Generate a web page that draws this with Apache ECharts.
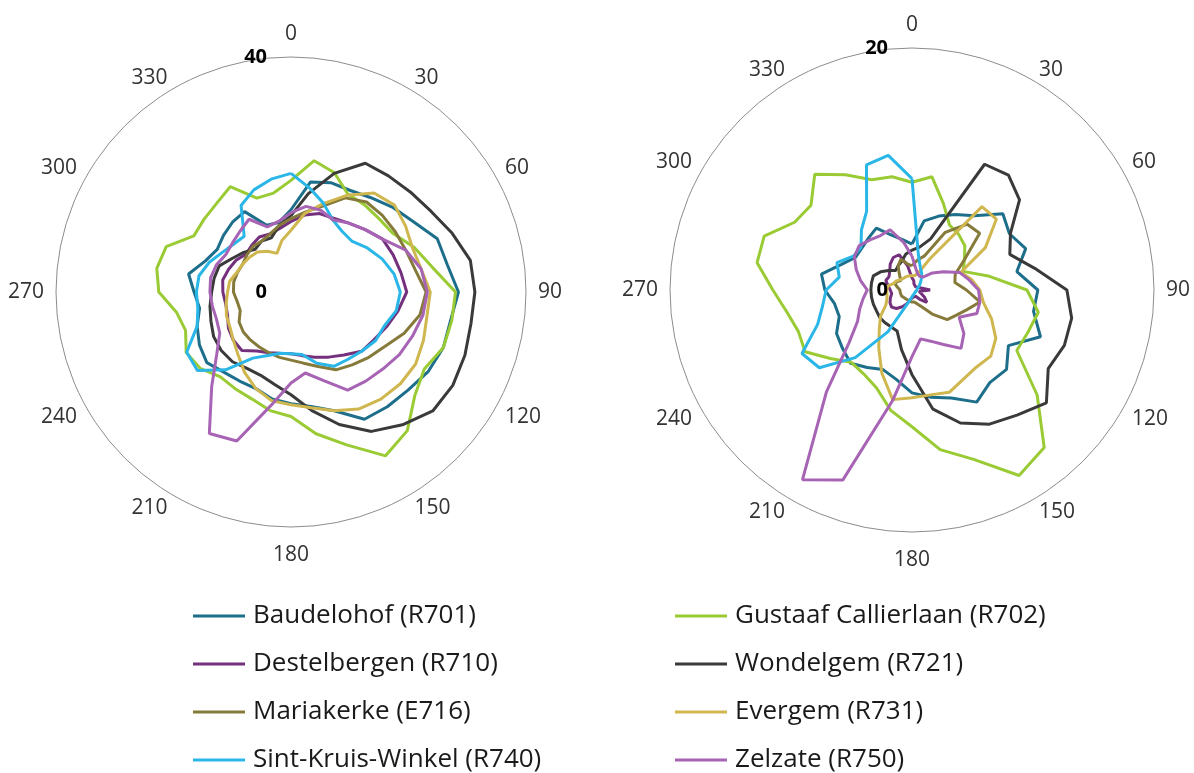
<!DOCTYPE html>
<html>
<head>
<meta charset="utf-8">
<style>
  html, body { margin: 0; padding: 0; background: #ffffff; }
  #chart { width: 1194px; height: 773px; }
</style>
<script src="https://cdn.jsdelivr.net/npm/echarts@6/dist/echarts.min.js"></script>
</head>
<body>
<div id="chart"></div>
<script>
// Wind directions (degrees, clockwise from north)
const angles = [0, 10, 20, 30, 40, 50, 60, 70, 80, 90, 100, 110, 120, 130, 140, 150, 160, 170,
                180, 190, 200, 210, 220, 230, 240, 250, 260, 270, 280, 290, 300, 310, 320, 330, 340, 350];

const angleTicks = [0, 30, 60, 90, 120, 150, 180, 210, 240, 270, 300, 330];

const stations = [
  'Baudelohof (R701)', 'Gustaaf Callierlaan (R702)',
  'Destelbergen (R710)', 'Wondelgem (R721)',
  'Mariakerke (E716)', 'Evergem (R731)',
  'Sint-Kruis-Winkel (R740)', 'Zelzate (R750)'
];
const stationColors = ['#1d6e8b', '#9acb34', '#74307c', '#3a3a3a', '#857a3a', '#cfb64e', '#2ab7e7', '#a763b4'];

const legendLeftCol = ['Baudelohof (R701)', 'Destelbergen (R710)', 'Mariakerke (E716)', 'Sint-Kruis-Winkel (R740)'];
const legendRightCol = ['Gustaaf Callierlaan (R702)', 'Wondelgem (R721)', 'Evergem (R731)', 'Zelzate (R750)'];

// Left rose, radial scale 0..40
const leftMax = 40;
const leftR701 = [14, 19, 19.8, 20, 21, 22.5, 24, 26.5, 27, 28.5, 27.6, 27.6, 27, 26, 25.5, 25, 21.5, 19.8, 19, 18.5, 17.5, 17.5, 17.8, 18.7, 18, 17, 15.8, 16.5, 17.7, 15.5, 14.5, 15, 15.5, 15.8, 12.1, 12];
const leftR702 = [19, 22.7, 21.6, 19.3, 19.4, 19.5, 20, 22.3, 24.4, 28, 27.8, 27.6, 26.2, 27.5, 30.8, 32.2, 27.7, 24.5, 21.2, 20.5, 19.4, 19, 18.8, 20.2, 20.6, 19.1, 19.8, 22.5, 23.2, 22.6, 19.1, 19.3, 19.7, 20.7, 17, 17.1];
const leftR710 = [12, 13.3, 14.2, 14.5, 15.3, 16.5, 18, 18.5, 19, 19.7, 18.5, 17.3, 16.3, 15.7, 14, 12.8, 11.8, 11, 10.5, 10.6, 11, 11.6, 13, 12.8, 12.3, 11.5, 11.3, 11.6, 11.8, 11.3, 10.8, 10, 10.4, 10.8, 10.5, 11];
const leftR721 = [13, 17, 21.5, 25.3, 25.8, 26.5, 27.5, 29.2, 31, 31.3, 31.1, 31.5, 31.8, 31.5, 29.5, 27.4, 24, 20.5, 17.5, 16, 15.1, 15, 15.5, 15.5, 15.2, 14.5, 14, 13.5, 13.3, 13, 11.5, 10.5, 9.5, 10, 9.8, 11.5];
const leftE716 = [12.5, 13.8, 15.5, 18.5, 20, 20.3, 20.5, 20.8, 21.5, 23, 22.3, 20.5, 18.5, 17.3, 16.2, 15.3, 13.5, 12.3, 11.6, 11.3, 11, 10.8, 10.7, 10.6, 10.2, 9.2, 9.3, 9.8, 9.9, 9.7, 9.5, 9.8, 10.1, 10, 10.5, 11.5];
const leftR731 = [10.5, 13.6, 16, 19, 22, 23, 22.5, 22, 22.5, 23.7, 23.5, 24, 24.5, 24.3, 23.8, 23, 21.5, 20, 19.2, 18.8, 17.5, 15.8, 14, 12.8, 12, 11.7, 11.2, 10.8, 10.6, 9.8, 9.5, 9.2, 8.9, 8, 7, 8.9];
const leftR740 = [20.2, 18, 16.1, 14.2, 13.5, 13.5, 15, 16.5, 17.8, 18.6, 18.2, 16.9, 16.6, 15.7, 15, 14.6, 12.9, 10.8, 10.5, 10.6, 11.5, 13, 17.3, 20.8, 20.5, 17, 16.1, 16.1, 15.9, 14.8, 13.5, 12.7, 12.4, 17, 18.5, 19.5];
const leftR750 = [13.5, 14.8, 14.8, 14.2, 15.3, 16.5, 18, 20.8, 22.5, 23.2, 22.8, 22, 21.3, 20.4, 19.8, 19.3, 16, 14, 15.5, 19.6, 27, 27.8, 21, 16.5, 14, 13.5, 13.6, 13.8, 13.9, 13.5, 12.8, 13, 13.5, 14.3, 11.8, 12.2];

// Right rose, radial scale 0..20
const rightMax = 20;
const rightR701 = [3.8, 5.8, 6.5, 7.2, 8, 9.8, 9.3, 10, 8.8, 10.4, 10.2, 11.3, 9.2, 10.2, 10, 10.7, 9.5, 9, 8.5, 7.5, 7, 7.4, 7.9, 7.5, 7.2, 6.4, 6.5, 7.2, 7.6, 6.2, 5.4, 5.4, 5.6, 5.9, 4.8, 4.2];
const rightR702 = [8.9, 9.5, 7.6, 6.2, 6, 5.7, 5, 4.5, 6.5, 9.5, 10.6, 10.2, 10, 13.5, 17, 17.7, 14.9, 13.4, 11.3, 10.1, 8.6, 8, 7.8, 8.8, 10.2, 10, 10.5, 11.5, 13, 13, 11.2, 10.9, 12.5, 11, 9.7, 9.5];
const rightR710 = [1, 0.8, 0.5, 0.4, 0.4, 0.4, 0.5, 0.6, 0.6, 1.5, 0.6, 0.6, 1.2, 1.6, 1, 0.6, 0.5, 0.6, 0.7, 0.8, 1.2, 1.6, 2, 2.2, 2.1, 1.9, 1.7, 1.8, 2, 2.3, 2.2, 2.4, 2.8, 3.1, 3.1, 2];
const rightR721 = [3.3, 3.6, 4.5, 12, 12.4, 11.6, 9.4, 8.6, 10.3, 12.8, 13.4, 13.4, 13, 14.5, 13.5, 12.8, 11.7, 10, 7, 5, 3.6, 3.5, 3.5, 3.5, 3.4, 3.4, 3.4, 3.4, 3.4, 3.4, 3, 2.5, 2.1, 2.3, 2.5, 3];
const rightE716 = [2, 2.5, 3, 5.5, 7.1, 7.3, 5, 3.8, 3.6, 4.5, 5.7, 4.8, 4.2, 3.8, 2.6, 1.6, 1.2, 1, 1, 0.9, 0.9, 0.9, 0.9, 0.9, 1, 1, 1, 1, 1.2, 1.5, 1.4, 1.2, 1.6, 2.3, 2.7, 2.2];
const rightR731 = [1.2, 1.2, 1.5, 3, 9, 9.1, 7, 4.3, 5, 5.6, 6, 7, 8, 8.5, 8.3, 8.5, 9, 8.8, 8.9, 9.2, 7.3, 5.5, 4.2, 3.4, 2.5, 2.2, 2.1, 2.1, 2, 1.6, 1.5, 1.3, 1.2, 1.2, 1.2, 1.2];
const rightR740 = [9.2, 3, 2, 1.6, 1.2, 0.9, 0.7, 0.5, 0.45, 0.4, 0.35, 0.33, 0.32, 0.32, 0.33, 0.35, 0.4, 0.45, 0.55, 0.8, 1.3, 4, 7.3, 10, 10.5, 8.3, 7.5, 7.1, 6.1, 6.6, 5.6, 5.5, 6.5, 7.5, 11, 11.3];
const rightR750 = [2.8, 1.8, 1.4, 1.3, 1.4, 2.2, 3, 4.2, 4.8, 5.5, 5.7, 5.7, 4.5, 5.6, 6.3, 5.2, 4.5, 4.1, 5.5, 9.3, 16.7, 18.1, 11, 6.8, 5.2, 4.6, 4.1, 3.7, 4.3, 4.9, 5.5, 5.7, 5.4, 5.2, 5.3, 4];

const leftSets = [leftR701, leftR702, leftR710, leftR721, leftE716, leftR731, leftR740, leftR750];
const rightSets = [rightR701, rightR702, rightR710, rightR721, rightE716, rightR731, rightR740, rightR750];

const FONT = '"Open Sans", "Liberation Sans", sans-serif';

// closed polygon in (radius, angle) pairs
function ring(values) {
  const pts = values.map((v, i) => [v, angles[i]]);
  pts.push([values[0], angles[0]]);
  return pts;
}

// direction labels: diagonal ones sit a little closer to the horizontal mid-line
function angleLabel(v) {
  if (angleTicks.indexOf(v) < 0) return '';
  if (v === 0) return '{n|0}';
  if (v === 180) return '{s|180}';
  if (v === 90 || v === 270) return '{m|' + v + '}';
  if (v < 90 || v > 270) return '{up|' + v + '}';
  return '{dn|' + v + '}';
}

function angleAxisFor(idx) {
  const base = { color: '#333333', fontFamily: FONT, fontSize: 21 };
  return {
    polarIndex: idx,
    type: 'value',
    min: 0,
    max: 360,
    interval: 30,
    startAngle: 90,
    clockwise: true,
    axisLine: { show: true, lineStyle: { color: '#8c8c8c', width: 1 } },
    axisTick: { show: false },
    splitLine: { show: false },
    axisLabel: {
      margin: 12,
      color: '#333333',
      fontFamily: FONT,
      fontSize: 21,
      formatter: angleLabel,
      rich: {
        n: Object.assign({ lineHeight: 22 }, base),
        s: Object.assign({ lineHeight: 32 }, base),
        m: Object.assign({ lineHeight: 24 }, base),
        up: Object.assign({ lineHeight: 1 }, base),
        dn: Object.assign({ lineHeight: 4 }, base)
      }
    }
  };
}

function radiusAxisFor(idx, max) {
  return {
    polarIndex: idx,
    type: 'value',
    min: 0,
    max: max,
    interval: max,
    axisLine: { show: false },
    axisTick: { show: false },
    splitLine: { show: false },
    axisLabel: {
      margin: 24,
      color: '#000000',
      fontFamily: FONT,
      fontSize: 20,
      fontWeight: 'bold'
    },
    z: 10
  };
}

const series = [];
stations.forEach((name, i) => {
  series.push({
    name: name,
    type: 'line',
    coordinateSystem: 'polar',
    polarIndex: 0,
    data: ring(leftSets[i]),
    symbol: 'none',
    smooth: false,
    lineStyle: { color: stationColors[i], width: 3 },
    itemStyle: { color: stationColors[i] },
    animation: false
  });
  series.push({
    name: name,
    type: 'line',
    coordinateSystem: 'polar',
    polarIndex: 1,
    data: ring(rightSets[i]),
    symbol: 'none',
    smooth: false,
    lineStyle: { color: stationColors[i], width: 3 },
    itemStyle: { color: stationColors[i] },
    animation: false
  });
});

function legendFor(names, left) {
  return {
    data: names,
    orient: 'vertical',
    left: left,
    top: 603,
    height: 170,
    padding: 0,
    icon: 'rect',
    itemWidth: 52,
    itemHeight: 3,
    itemGap: 22,
    selectedMode: false,
    textStyle: {
      color: '#1a1a1a',
      fontFamily: FONT,
      fontSize: 26,
      lineHeight: 26,
      padding: [0, 0, 0, 3]
    }
  };
}

const chart = echarts.init(document.getElementById('chart'), null, { renderer: 'canvas' });
chart.setOption({
  backgroundColor: '#ffffff',
  animation: false,
  polar: [
    { center: [291, 292], radius: 235 },
    { center: [912, 290], radius: 242 }
  ],
  angleAxis: [angleAxisFor(0), angleAxisFor(1)],
  radiusAxis: [radiusAxisFor(0, leftMax), radiusAxisFor(1, rightMax)],
  legend: [legendFor(legendLeftCol, 193), legendFor(legendRightCol, 675)],
  series: series
});
</script>
</body>
</html>
